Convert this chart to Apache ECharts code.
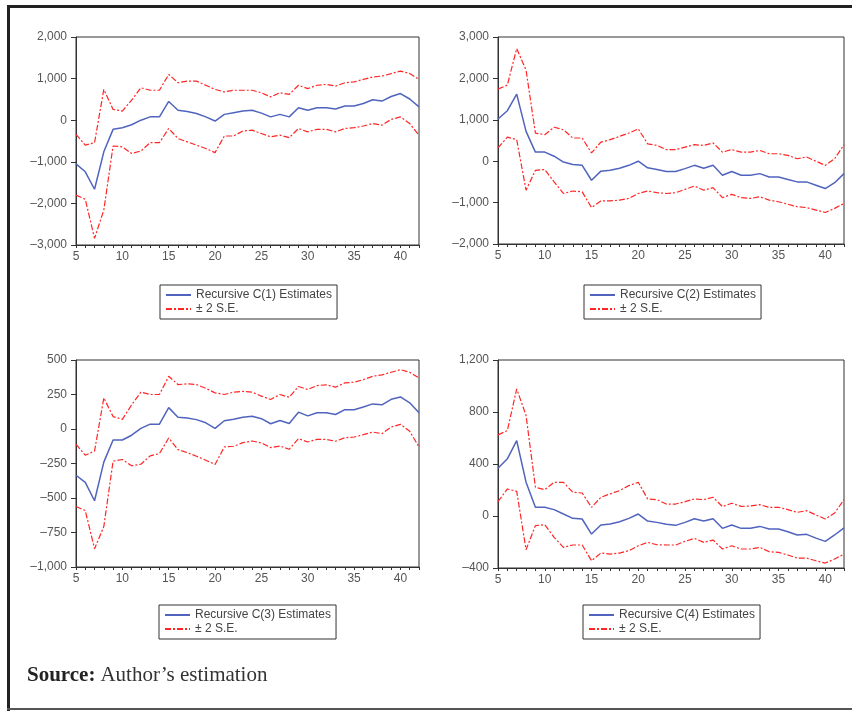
<!DOCTYPE html>
<html>
<head>
<meta charset="utf-8">
<script src="https://cdn.jsdelivr.net/npm/echarts@6/dist/echarts.min.js"></script>
<style>
  html, body { margin: 0; padding: 0; background: #fff; }
  #chart { width: 852px; height: 711px; }
</style>
</head>
<body>
<div id="chart"></div>
<script>
// 横坐标 (观测期)
var xLabels = [5, 6, 7, 8, 9, 10, 11, 12, 13, 14, 15, 16, 17, 18, 19, 20, 21, 22, 23, 24,
  25, 26, 27, 28, 29, 30, 31, 32, 33, 34, 35, 36, 37, 38, 39, 40, 41, 42]

// C(1)
var c1 = [-1050, -1240, -1660, -760, -220, -180, -110, 0, 80, 80, 450, 240, 210, 160, 80, -20, 140, 180, 220, 240,
  170, 80, 140, 80, 300, 240, 300, 300, 270, 340, 340, 400, 490, 460, 570, 640, 510, 320]
var c1Up = [-340, -600, -540, 740, 260, 220, 480, 780, 720, 720, 1100, 900, 940, 940, 840, 740, 680, 720, 720, 720,
  660, 560, 660, 620, 840, 760, 840, 860, 820, 900, 920, 980, 1040, 1060, 1120, 1180, 1120, 980]
var c1Lo = [-1800, -1900, -2840, -2160, -620, -640, -800, -740, -540, -540, -200, -440, -520, -600, -680, -780, -380, -380, -260, -240,
  -320, -400, -360, -420, -200, -280, -220, -220, -280, -200, -180, -140, -80, -120, 20, 80, -80, -360]

// C(2)
var c2 = [1020, 1220, 1620, 720, 220, 220, 120, -20, -80, -100, -460, -240, -220, -170, -100, 0, -160, -200, -250, -250,
  -180, -100, -170, -100, -340, -250, -340, -340, -300, -380, -380, -440, -500, -500, -580, -660, -520, -300]
var c2Up = [1740, 1840, 2720, 2200, 680, 640, 820, 760, 560, 560, 200, 460, 520, 600, 680, 780, 420, 380, 280, 280,
  340, 400, 380, 440, 220, 280, 220, 220, 260, 180, 180, 140, 60, 100, 0, -100, 60, 400]
var c2Lo = [320, 580, 520, -700, -220, -200, -500, -780, -720, -740, -1120, -960, -960, -940, -900, -780, -720, -760, -780, -760,
  -680, -600, -700, -640, -880, -800, -880, -900, -860, -940, -980, -1040, -1100, -1120, -1180, -1240, -1140, -1020]

// C(3)
var c3 = [-335, -387, -520, -240, -80, -80, -45, 5, 35, 35, 155, 85, 80, 68, 45, 5, 60, 70, 85, 92,
  75, 38, 62, 40, 122, 95, 118, 118, 105, 140, 140, 160, 182, 175, 215, 232, 190, 118]
var c3Up = [-110, -190, -160, 225, 90, 70, 175, 267, 250, 250, 382, 322, 327, 322, 295, 262, 250, 267, 272, 267,
  238, 214, 250, 230, 308, 286, 315, 320, 303, 334, 339, 358, 382, 392, 411, 430, 411, 370]
var c3Lo = [-562, -591, -868, -707, -233, -221, -267, -255, -195, -178, -65, -149, -171, -197, -226, -257, -130, -125, -99, -87,
  -101, -135, -123, -147, -70, -94, -75, -75, -89, -63, -58, -41, -22, -34, 14, 34, -17, -130]

// C(4)
var c4 = [367, 440, 580, 260, 67, 67, 49, 15, -18, -23, -139, -69, -62, -44, -18, 15, -39, -49, -64, -72,
  -49, -21, -39, -21, -95, -69, -95, -95, -80, -100, -100, -121, -146, -141, -170, -195, -146, -92]
var c4Up = [624, 657, 978, 773, 221, 203, 259, 259, 182, 177, 67, 144, 170, 195, 234, 259, 131, 126, 92, 92,
  110, 131, 126, 144, 72, 98, 74, 77, 87, 67, 67, 49, 28, 41, 8, -23, 23, 126]
var c4Lo = [110, 208, 190, -259, -74, -67, -164, -241, -223, -223, -344, -285, -293, -285, -267, -229, -203, -221, -223, -223,
  -195, -172, -203, -185, -254, -229, -254, -254, -241, -275, -280, -300, -324, -324, -344, -362, -331, -293]

// 纵坐标范围
var yMins = [-3000, -2000, -1000, -400]
var yMaxs = [2000, 3000, 500, 1200]
var yIntervals = [1000, 1000, 250, 400]

var estNames = ['Recursive C(1) Estimates', 'Recursive C(2) Estimates', 'Recursive C(3) Estimates', 'Recursive C(4) Estimates']
var seName = '\u00b1 2 S.E.'
var sourceBold = 'Source:'
var sourceText = 'Author\u2019s estimation'

var panels = [
  { est: c1, up: c1Up, lo: c1Lo },
  { est: c2, up: c2Up, lo: c2Lo },
  { est: c3, up: c3Up, lo: c3Lo },
  { est: c4, up: c4Up, lo: c4Lo }
]

var gridPos = [
  { left: 76, top: 37, width: 343, height: 208 },
  { left: 498, top: 37, width: 346, height: 207 },
  { left: 76, top: 360, width: 343, height: 207 },
  { left: 498, top: 360, width: 346, height: 208 }
]
var legendPos = [
  { left: 160, top: 285 },
  { left: 584, top: 285 },
  { left: 159, top: 605 },
  { left: 583, top: 605 }
]

var font = '"Liberation Sans", Arial, sans-serif'
var serif = '"Liberation Serif", "Times New Roman", serif'
var blue = '#5064be'
var red = '#ff2626'

function fmtNum(v) {
  var s = Math.abs(v).toString().replace(/\B(?=(\d{3})+(?!\d))/g, ',')
  return v < 0 ? '\u2013' + s : s
}

var chart = echarts.init(document.getElementById('chart'))
var option = {
  animation: false,
  backgroundColor: '#fff',
  title: {
    left: 27,
    top: 665,
    padding: 0,
    text: '{b|' + sourceBold + '} {n|' + sourceText + '}',
    textStyle: {
      fontWeight: 'normal',
      rich: {
        b: { fontFamily: serif, fontSize: 21, fontWeight: 'bold', color: '#222' },
        n: { fontFamily: serif, fontSize: 21, fontWeight: 'normal', color: '#333' }
      }
    }
  },
  // 外框
  graphic: [
    { type: 'rect', shape: { x: 7, y: 5, width: 845, height: 3 }, style: { fill: '#222' } },
    { type: 'rect', shape: { x: 7, y: 5, width: 3, height: 706 }, style: { fill: '#222' } },
    { type: 'rect', shape: { x: 7, y: 708, width: 845, height: 2 }, style: { fill: '#555' } }
  ],
  grid: [],
  xAxis: [],
  yAxis: [],
  legend: [],
  series: []
}

panels.forEach(function(p, i) {
  option.grid.push(Object.assign({ show: true, borderColor: '#333', borderWidth: 1, backgroundColor: '#fff' }, gridPos[i]))
  option.xAxis.push({
    type: 'category',
    gridIndex: i,
    data: xLabels,
    boundaryGap: false,
    axisLine: { onZero: false, lineStyle: { color: '#333', width: 1 } },
    axisTick: { interval: 0, length: 3, lineStyle: { color: '#333' } },
    axisLabel: {
      interval: function(idx, val) { return Number(val) % 5 === 0 },
      color: '#555',
      fontSize: 12,
      fontFamily: font,
      margin: 6
    },
    splitLine: { show: false }
  })
  option.yAxis.push({
    type: 'value',
    gridIndex: i,
    min: yMins[i],
    max: yMaxs[i],
    interval: yIntervals[i],
    axisLine: { show: true, lineStyle: { color: '#333', width: 1 } },
    axisTick: { show: true, length: 5, lineStyle: { color: '#333' } },
    axisLabel: { color: '#555', fontSize: 12, fontFamily: font, margin: 9, formatter: fmtNum },
    splitLine: { show: false }
  })
  option.legend.push(Object.assign({
    orient: 'vertical',
    data: [estNames[i], seName],
    itemWidth: 25,
    itemHeight: 14,
    itemGap: 2,
    padding: [4, 5, 4, 5],
    borderColor: '#333',
    borderWidth: 1,
    borderRadius: 0,
    selectedMode: false,
    itemStyle: { opacity: 0 },
    textStyle: { fontSize: 12, color: '#444', fontFamily: font }
  }, legendPos[i]))
  option.series.push({
    name: estNames[i],
    type: 'line',
    xAxisIndex: i,
    yAxisIndex: i,
    data: p.est,
    symbol: 'none',
    lineStyle: { color: blue, width: 1.5 },
    itemStyle: { color: blue }
  })
  ;[p.up, p.lo].forEach(function(d) {
    option.series.push({
      name: seName,
      type: 'line',
      xAxisIndex: i,
      yAxisIndex: i,
      data: d,
      symbol: 'none',
      lineStyle: { color: red, width: 1.2, type: [6, 2, 2, 2] },
      itemStyle: { color: red }
    })
  })
})

chart.setOption(option)
</script>
</body>
</html>
